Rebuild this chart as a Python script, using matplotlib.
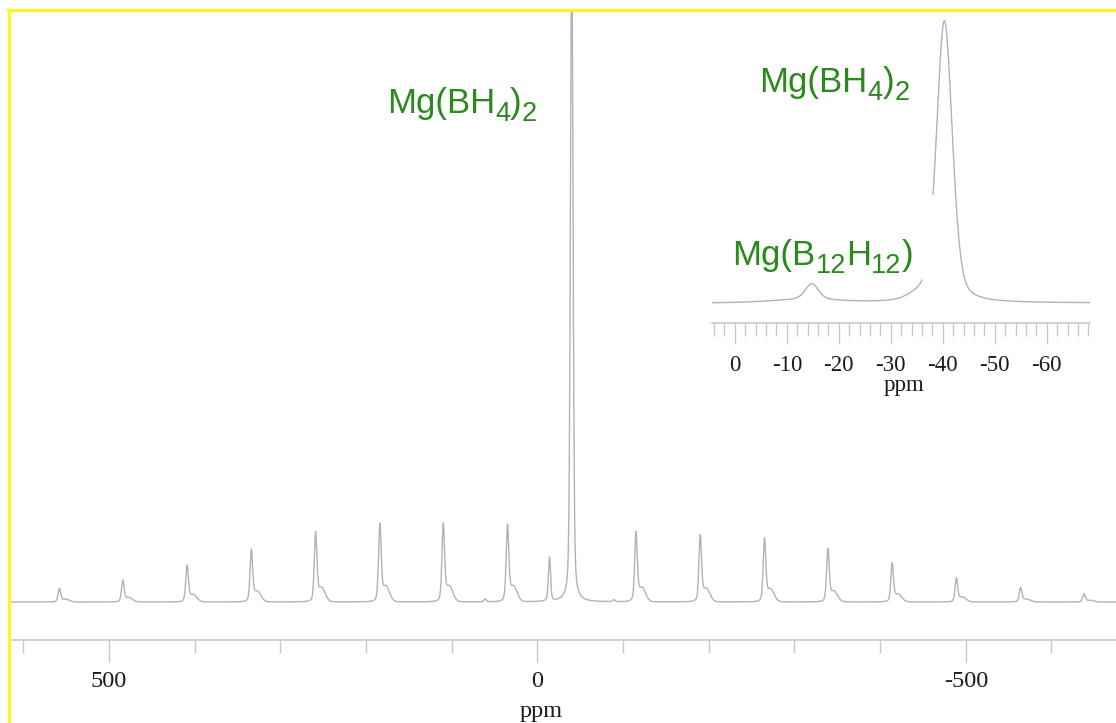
import numpy as np
import matplotlib.pyplot as plt
from matplotlib.lines import Line2D
from matplotlib.transforms import ScaledTranslation

plt.rcParams['font.family'] = ['Liberation Serif', 'DejaVu Serif']
plt.rcParams['axes.unicode_minus'] = False

# ---- main spectrum: Mg(BH4)2 centre line + spinning sidebands (ppm, height) ----
sb_ppm = [558, 484, 409, 334, 259, 184, 110, 35, -40,
          -115, -190, -265, -339, -414, -489, -564, -638]
sb_height = [13, 21, 35, 50, 67, 75, 75, 74, 660,
             67, 64, 61, 51, 37, 23, 14, 8]
# Mg(B12H12) line and its two visible sidebands
b12_ppm = [61, -14, -89]
b12_height = [3, 44, 2]

main_ticks = [500, 0, -500]
main_minor = [600, 400, 300, 200, 100, -100, -200, -300, -400, -600]

# ---- inset (expanded region) ----
ins_ppm = [-14.8, -40.3]
ins_height = [16, 282]
ins_fwhm = [3.0, 3.6]
hump_ppm = [-13.5, -35.5]
hump_height = [3, 5]
hump_fwhm = [16, 5]
gap_ppm = [-36.0, -38.1]   # missing piece of trace in the original
ins_ticks = [0, -10, -20, -30, -40, -50, -60]

bh4_label = [('Mg(BH', 0), ('4', 1), (')', 0), ('2', 1)]
b12_label = [('Mg(B', 0), ('12', 1), ('H', 0), ('12', 1), (')', 0)]

line_c = '#b3b3b3'
axis_c = '#c8c8c8'
green = '#2a8a1c'


def pv(x, x0, h, fwhm, eta=0.35):
    s = fwhm / 2.355
    g = np.exp(-(x - x0) ** 2 / (2 * s * s))
    l = 1 / (1 + ((x - x0) / (fwhm / 2)) ** 2)
    return h * ((1 - eta) * g + eta * l)


fig = plt.figure(figsize=(11.16, 7.23), dpi=100)
W, H = 1116, 723
renderer = fig.canvas.get_renderer()


def chem(ax, x, y, parts, size=25):
    # formula with real subscripts, placed piece by piece
    dx = 0.0
    for s, sub in parts:
        fs = size * 0.78 if sub else size
        dy = -5.5 if sub else 0
        off = ScaledTranslation(dx / 72, dy / 72, fig.dpi_scale_trans)
        t = ax.text(x, y, s, transform=ax.transData + off, color=green,
                    fontsize=fs, family='Liberation Sans', ha='left', va='baseline')
        dx += t.get_window_extent(renderer=renderer).width * 72 / fig.dpi


# main axes
ax = fig.add_axes([10 / W, 1 - 640 / H, 1106 / W, 630 / H])
x = np.linspace(616, -676, 12000)
y = np.zeros_like(x)
for p, h in zip(sb_ppm, sb_height):
    y += pv(x, p, h, 3.6)
    if p != -40:
        y += pv(x, p - 7, 0.2 * h, 10, eta=0)
for p, h in zip(b12_ppm, b12_height):
    y += pv(x, p, h, 3.0)
ax.plot(x, y, color=line_c, lw=1)
ax.set_xlim(615.7, -675.3)
ax.set_ylim(-38, 592)
for s in ['top', 'left', 'right']:
    ax.spines[s].set_visible(False)
ax.spines['bottom'].set_color(axis_c)
ax.spines['bottom'].set_linewidth(1.2)
ax.set_yticks([])
ax.set_xticks(main_ticks)
ax.set_xticklabels([str(t) for t in main_ticks])
ax.set_xticks(main_minor, minor=True)
ax.tick_params(axis='x', which='major', length=16, width=1, color=axis_c,
               labelsize=17.5, pad=6, labelcolor='#1a1a1a')
ax.tick_params(axis='x', which='minor', length=9, width=1, color=axis_c)
ax.patch.set_alpha(0)
chem(ax, 175.7, 489, bh4_label)
fig.text(541 / W, 1 - 711 / H, 'ppm', ha='center', va='center',
         fontsize=17.5, color='#1a1a1a')

# inset axes
ai = fig.add_axes([712 / W, 1 - 323 / H, 378 / W, 313 / H])
xi = np.linspace(4.4, -68.3, 3000)
yi = np.zeros_like(xi)
for p, h, f in zip(ins_ppm, ins_height, ins_fwhm):
    yi += pv(xi, p, h, f)
for p, h, f in zip(hump_ppm, hump_height, hump_fwhm):
    yi += pv(xi, p, h, f, eta=0)
yi[(xi < gap_ppm[0]) & (xi > gap_ppm[1])] = np.nan
ai.plot(xi, yi, color=line_c, lw=1)
ai.set_xlim(4.4, -68.3)
ai.set_ylim(-20, 293)
for s in ['top', 'left', 'right']:
    ai.spines[s].set_visible(False)
ai.spines['bottom'].set_color(axis_c)
ai.spines['bottom'].set_linewidth(1.2)
ai.set_yticks([])
ai.set_xticks(ins_ticks)
ai.set_xticklabels([str(t) for t in ins_ticks])
ai.set_xticks(np.arange(4, -69, -2), minor=True)
ai.tick_params(axis='x', which='major', length=15, width=1, color=axis_c,
               labelsize=16.5, pad=8, labelcolor='#1a1a1a')
ai.tick_params(axis='x', which='minor', length=9, width=1, color=axis_c)
ai.patch.set_alpha(0)
chem(ai, -4.7, 211, bh4_label)
chem(ai, 0.5, 38, b12_label)
fig.text(904 / W, 1 - 385 / H, 'ppm', ha='center', va='center',
         fontsize=16.5, color='#1a1a1a')

# yellow frame (top and left)
fig.add_artist(Line2D([9 / W, 9 / W], [0, 1 - 10 / H], transform=fig.transFigure,
                      color='#fff42a', lw=2.4))
fig.add_artist(Line2D([8 / W, 1], [1 - 10 / H, 1 - 10 / H], transform=fig.transFigure,
                      color='#fff42a', lw=2.4))

fig.savefig('out.png', dpi=100)
